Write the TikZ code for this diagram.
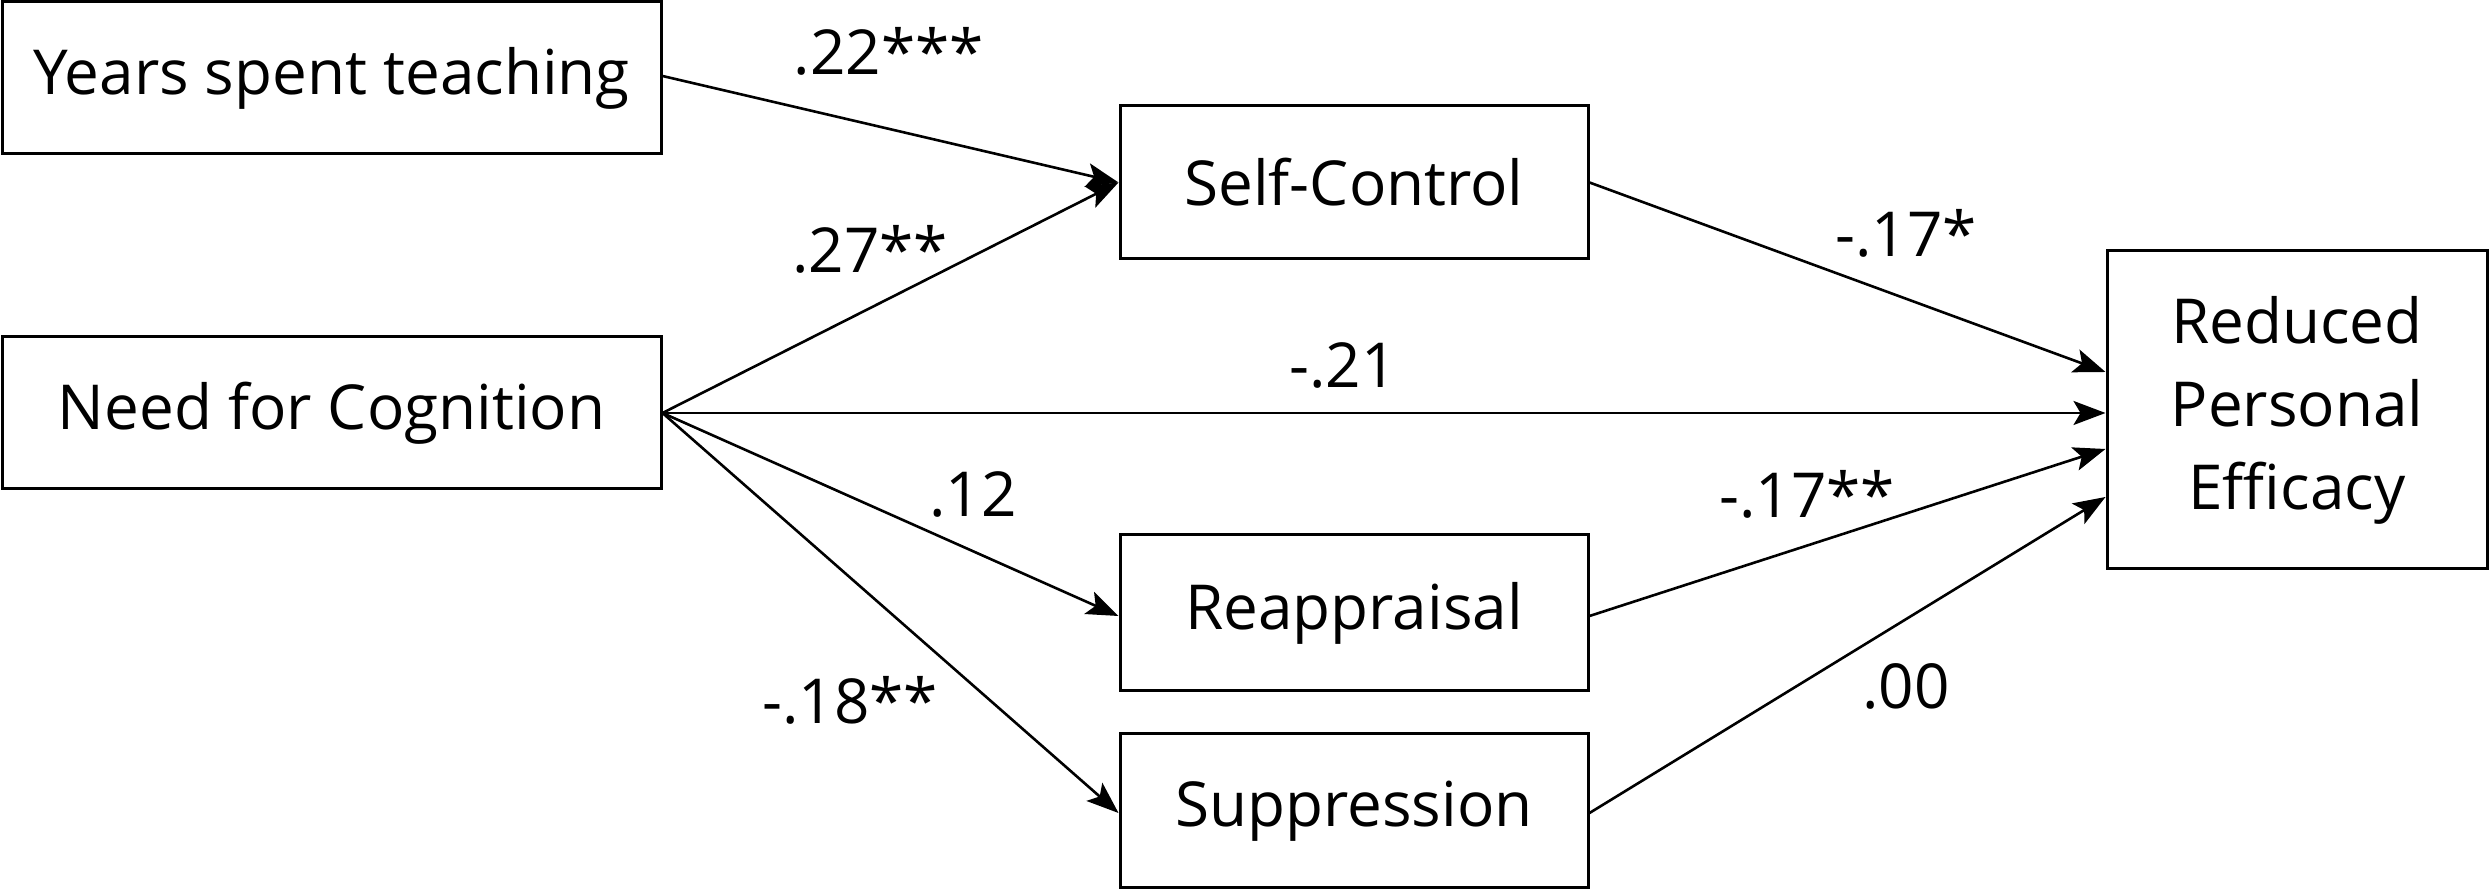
\documentclass[tikz,border=0pt]{standalone}
\usepackage{fontspec}
\setmainfont{Open Sans}
\usetikzlibrary{arrows.meta,calc}
\begin{document}
\begin{tikzpicture}[x=1pt,y=1pt,
  every node/.style={font=\fontsize{62}{83}\selectfont},
  varbox/.style={draw, line width=3pt, inner sep=0pt, align=center},
  path/.style={line width=2.6pt, -{Stealth[length=32pt,width=24pt,inset=7pt]}},
  coef/.style={inner sep=0pt}]
\useasboundingbox (0,0) rectangle (2490,891);
\node[varbox, minimum width=659pt, minimum height=152pt] (years) at (331.5,813) {Years spent teaching};
\node[varbox, minimum width=659pt, minimum height=152pt] (nfc) at (331.5,478) {Need for Cognition};
\node[varbox, minimum width=468pt, minimum height=153pt] (sc) at (1354,708.5) {Self-Control};
\node[varbox, minimum width=468pt, minimum height=156pt] (reapp) at (1354,278) {Reappraisal};
\node[varbox, minimum width=468pt, minimum height=154pt] (supp) at (1354,80) {Suppression};
\node[varbox, minimum width=380pt, minimum height=318pt] (red) at (2297,481) {Reduced\\Personal\\Efficacy};

\draw[path] ([yshift=2pt]years.east) -- (sc.west);
\draw[path] (nfc.east) -- (sc.west);
\draw[path] (nfc.east) -- (nfc.east -| red.west);
\draw[path] (nfc.east) -- ([yshift=-3pt]reapp.west);
\draw[path] (nfc.east) -- ([yshift=-2pt]supp.west);
\draw[path] (sc.east) -- ([yshift=38pt]red.west);
\draw[path] ([yshift=-3pt]reapp.east) -- ([yshift=-39pt]red.west);
\draw[path] ([yshift=-2pt]supp.east) -- ([yshift=-87pt]red.west);

\node[coef] (c1) at (889,840) {.22***};
\node[coef] (c2) at (870,642) {.27**};
\node[coef] (c3) at (1343,526) {-.21};
\node[coef] (c4) at (973,397) {.12};
\node[coef] (c5) at (850,191) {-.18**};
\node[coef] (c6) at (1906,658) {-.17*};
\node[coef] (c7) at (1807,397) {-.17**};
\node[coef] (c8) at (1906,205) {.00};
\end{tikzpicture}
\end{document}
